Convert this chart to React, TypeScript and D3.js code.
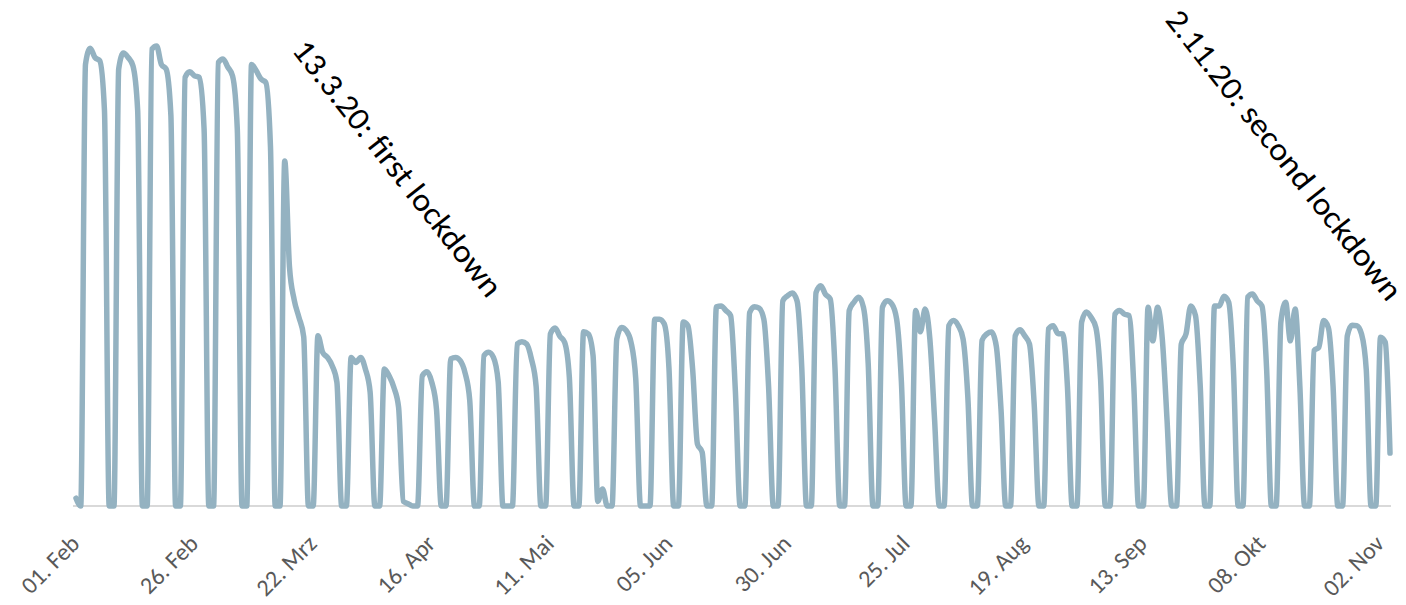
import * as d3 from "d3";

// daily values, 01.02.2020 – 04.11.2020 (index 0 = Sat 01 Feb)
const startDate = "2020-02-01";

const feb = [
  1.7, 0, 96, 99.5, 97.5, 96.8, 86, 0, 0, 95, 98.5, 97.5, 95.7, 86, 0, 0, 99.3, 100, 96, 95, 85, 0, 0,
  93.2, 94.4, 93.5, 93.2, 82, 0,
];
const mar = [
  0, 96.4, 97.2, 95.4, 93.5, 82, 0, 0, 96, 94.6, 92.8, 92.1, 78, 0, 0, 75, 52, 44.8, 41, 36.8, 0, 0,
  37, 33.4, 32.3, 30.5, 26.9, 0, 0, 32.3, 31.2,
];
const apr = [
  32.3, 29.8, 24.8, 0, 0, 29.8, 28.3, 25.8, 21.5, 1, 0.5, 0, 0, 28.3, 29.2, 26.9, 21, 0, 0, 32, 32.3,
  31.6, 29, 23, 0, 0, 32.7, 33.4, 32.3, 27,
];
const may = [
  0, 0, 0, 35.2, 35.7, 35.2, 32, 26, 0, 0, 37.4, 38.7, 36.9, 35.6, 28, 0, 0, 37.9, 37.4, 32.7, 1, 3.7,
  0, 0, 36.3, 38.8, 38.1, 35.6, 27.6, 0, 0,
];
const jun = [
  0, 40.6, 40.6, 39.6, 30, 0, 0, 40, 39.2, 29.6, 13.5, 11.7, 0, 0, 43.3, 43.5, 42.5, 41.4, 25, 0, 0,
  42, 43.3, 43, 40.6, 26, 0, 0, 44.6, 45.7,
];
const jul = [
  46.3, 44.6, 30, 0, 0, 46.4, 47.9, 46, 45, 30, 0, 0, 42.5, 44.3, 45.4, 43.2, 31, 0, 0, 43.2, 44.6,
  43.9, 40.6, 27, 0, 0, 42.5, 37.9, 42.8, 36.3, 18.7,
];
const aug = [
  0, 0, 39.2, 40.3, 39.2, 36.3, 23.8, 0, 0, 36, 37.4, 37.8, 34.8, 21, 0, 0, 37, 38.3, 37, 35.2, 22, 0,
  0, 38.5, 39.2, 37.5, 37.4, 26, 0, 0, 40,
];
const sep = [
  42.2, 41, 38.8, 27.4, 0, 0, 41.7, 42.5, 41.7, 41.4, 26, 0, 0, 43.2, 35.9, 43.2, 36.3, 18.7, 0, 0,
  35.2, 37.4, 43.5, 41.4, 26, 0, 0, 43.5, 43.5, 45.6,
];
const oct = [
  44.3, 29.6, 0, 0, 45.4, 46.1, 44.6, 43.5, 29.6, 0, 0, 40, 44.3, 35.9, 42.8, 26, 0, 0, 33.8, 34.5,
  40.3, 38.8, 26, 0, 0, 37, 39.3, 39.2, 37.4, 29.6, 0,
];
const nov = [0, 36.7, 35.6, 11.5];

const tickDates = [
  "2020-02-01", "2020-02-26", "2020-03-22", "2020-04-16", "2020-05-11", "2020-06-05",
  "2020-06-30", "2020-07-25", "2020-08-19", "2020-09-13", "2020-10-08", "2020-11-02",
];
const tickLabels = [
  "01. Feb", "26. Feb", "22. Mrz", "16. Apr", "11. Mai", "05. Jun",
  "30. Jun", "25. Jul", "19. Aug", "13. Sep", "08. Okt", "02. Nov",
];

const annotations = [
  { text: "13.3.20: first lockdown", cx: 397.5, cy: 168.5, len: 317 },
  { text: "2.11.20: second lockdown", cx: 1284, cy: 155, len: 360 },
];

const W = 1406;
const H = 605;

export default function App() {
  const values = [...feb, ...mar, ...apr, ...may, ...jun, ...jul, ...aug, ...sep, ...oct, ...nov];
  const parse = d3.utcParse("%Y-%m-%d");
  const start = parse(startDate)!;
  const dates = values.map((_, i) => d3.utcDay.offset(start, i));

  const x = d3.scaleUtc().domain([dates[0], dates[dates.length - 1]]).range([76, 1390]);
  const y = d3.scaleLinear().domain([0, 100]).range([506, 46]);

  const line = d3
    .line<number>()
    .x((_, i) => x(dates[i]))
    .y((d) => y(d))
    .curve(d3.curveMonotoneX);

  const [x0, x1] = x.range();

  return (
    <svg
      width={W}
      height={H}
      style={{ position: "absolute", left: 0, top: 0, background: "#fff" }}
      fontFamily="Calibri, Carlito, Lato, sans-serif"
    >
      {/* baseline */}
      <line x1={x0 - 3} x2={x1 + 1} y1={y(0)} y2={y(0)} stroke="#d9d9d9" strokeWidth={2} />

      <path
        d={line(values) ?? ""}
        fill="none"
        stroke="#94b2c1"
        strokeWidth={5.5}
        strokeLinejoin="round"
        strokeLinecap="round"
      />

      {/* x tick labels */}
      {tickDates.map((t, i) => {
        const tx = x(parse(t)!) - 1;
        return (
          <text
            key={t}
            transform={`translate(${tx},539) rotate(-45)`}
            textAnchor="end"
            dominantBaseline="central"
            fontSize={24}
            fill="#595959"
          >
            {tickLabels[i]}
          </text>
        );
      })}

      {annotations.map((a) => (
        <text
          key={a.text}
          transform={`translate(${a.cx},${a.cy}) rotate(51.7)`}
          textAnchor="middle"
          dominantBaseline="central"
          fontSize={32}
          fill="#000"
          textLength={a.len}
          lengthAdjust="spacingAndGlyphs"
        >
          {a.text}
        </text>
      ))}
    </svg>
  );
}
